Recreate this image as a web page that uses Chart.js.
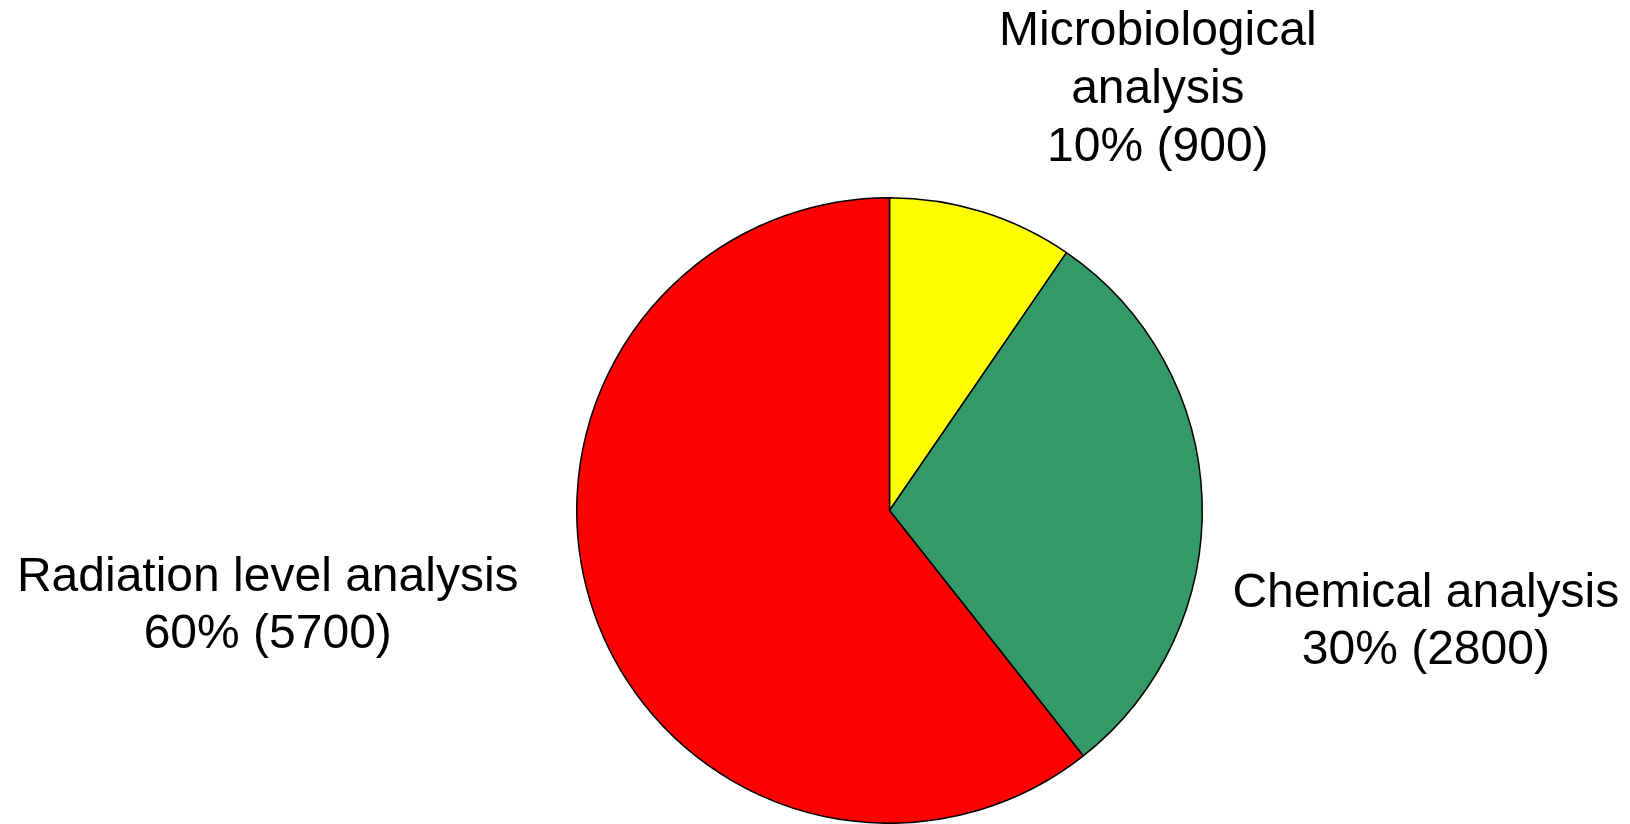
<!DOCTYPE html>
<html>
<head>
<meta charset="utf-8">
<script src="https://cdn.jsdelivr.net/npm/chart.js@4/dist/chart.umd.min.js"></script>
<style>
  html, body { margin: 0; padding: 0; background: #ffffff; }
  #wrap { width: 1630px; height: 824px; }
</style>
</head>
<body>
<div id="wrap"><canvas id="c" width="1630" height="824"></canvas></div>
<script>
const categories = ['Microbiological analysis', 'Chemical analysis', 'Radiation level analysis'];
const values = [900, 2800, 5700];
const percents = [10, 30, 60];
const labelLines = [
  ['Microbiological', 'analysis'],
  ['Chemical analysis'],
  ['Radiation level analysis']
];
const colors = ['#FFFF00', '#339966', '#FF0000'];

// label anchor in units of pie radius (dx to text centre, dy to first baseline)
const labelAnchor = [
  { dx: 0.858, dy: -1.487 },
  { dx: 1.715, dy: 0.308 },
  { dx: -1.988, dy: 0.257 }
];

const labelPlugin = {
  id: 'outerLabels',
  afterDatasetsDraw(chart) {
    const ctx = chart.ctx;
    const meta = chart.getDatasetMeta(0);
    const arc0 = meta.data[0];
    const cx = arc0.x, cy = arc0.y, r = arc0.outerRadius;
    ctx.save();
    ctx.fillStyle = '#000000';
    ctx.font = '48px "Liberation Sans", Arial, sans-serif';
    ctx.textAlign = 'center';
    ctx.textBaseline = 'alphabetic';
    const lh = 57.6;
    categories.forEach((cat, i) => {
      const lines = labelLines[i].concat([percents[i] + '% (' + values[i] + ')']);
      const x = cx + labelAnchor[i].dx * r;
      const y0 = cy + labelAnchor[i].dy * r;
      lines.forEach((t, k) => ctx.fillText(t, x, y0 + k * lh));
    });
    ctx.restore();
  }
};

new Chart(document.getElementById('c'), {
  type: 'pie',
  data: {
    labels: categories,
    datasets: [{
      data: values,
      backgroundColor: colors,
      borderColor: '#000000',
      borderWidth: 1.5,
      borderAlign: 'center'
    }]
  },
  options: {
    responsive: false,
    animation: false,
    devicePixelRatio: 1,
    layout: { padding: { left: 576, top: 197, right: 427, bottom: 0 } },
    plugins: {
      legend: { display: false },
      tooltip: { enabled: false },
      title: { display: false }
    }
  },
  plugins: [labelPlugin]
});
</script>
</body>
</html>
